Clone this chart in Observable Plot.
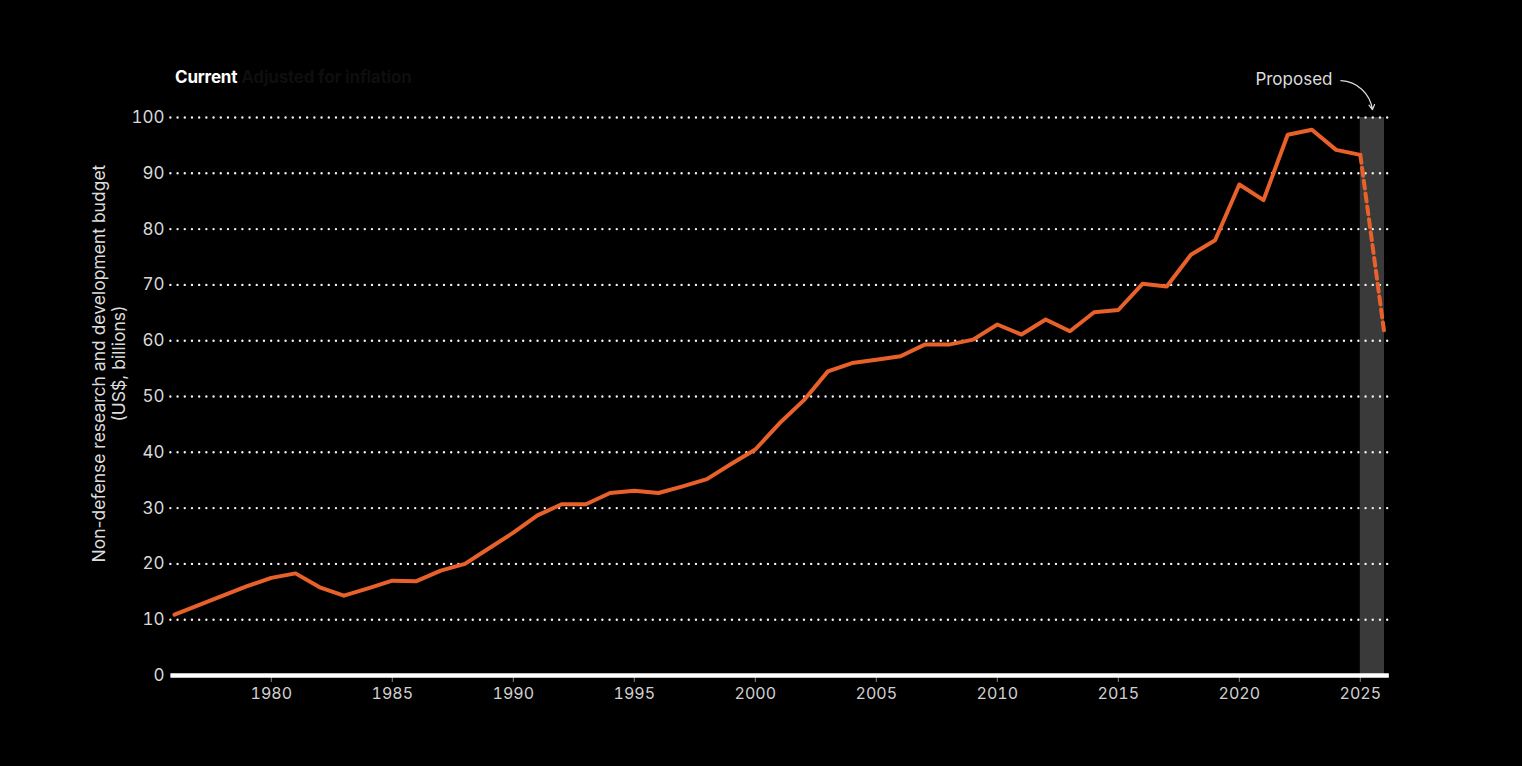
<!DOCTYPE html>
<html>
<head>
<meta charset="utf-8">
<script src="https://cdn.jsdelivr.net/npm/d3@7"></script>
<script src="https://cdn.jsdelivr.net/npm/@observablehq/plot@0.6"></script>
<style>
  html, body { margin: 0; padding: 0; background: #000; }
  #wrap { position: relative; width: 1522px; height: 766px; background: #000; overflow: hidden; }
  #title { position: absolute; left: 175px; top: 67px; font-family: Inter, "Open Sans", sans-serif; font-size: 17px; color: #fff; white-space: nowrap; letter-spacing: -0.2px; }
  #title b { font-weight: 700; }
  #title span { color: #0e0e0e; font-weight: 700; margin-left: 4px; }
</style>
</head>
<body>
<div id="wrap">
  <div id="title"><b>Current</b><span>Adjusted for inflation</span></div>
</div>
<script>
const years = [1976,1977,1978,1979,1980,1981,1982,1983,1984,1985,1986,1987,1988,1989,1990,
  1991,1992,1993,1994,1995,1996,1997,1998,1999,2000,2001,2002,2003,2004,2005,2006,2007,2008,
  2009,2010,2011,2012,2013,2014,2015,2016,2017,2018,2019,2020,2021,2022,2023,2024,2025];
const budget = [10.9,12.6,14.3,16.0,17.5,18.3,15.8,14.3,15.6,17.0,16.9,18.8,20.0,22.8,25.6,
  28.7,30.7,30.7,32.7,33.1,32.7,33.9,35.2,37.9,40.5,45.2,49.3,54.5,56.0,56.6,57.2,59.3,59.3,
  60.2,62.9,61.1,63.8,61.7,65.1,65.5,70.2,69.7,75.4,78.0,88.0,85.2,96.9,97.8,94.2,93.3];
const proposedYears = [2025, 2026];
const proposedValues = [93.3, 61.1];
const yTicks = [0,10,20,30,40,50,60,70,80,90,100];
const xTicks = [1980,1985,1990,1995,2000,2005,2010,2015,2020,2025];
const yLabel = "Non-defense research and development budget\n(US$, billions)";
const annotation = "Proposed";

const hist = years.map((y, i) => ({year: y, value: budget[i]}));
const prop = proposedYears.map((y, i) => ({year: y, value: proposedValues[i]}));
const orange = "#e8602a";
const font = "Inter, 'Open Sans', sans-serif";

const chart = Plot.plot({
  width: 1522,
  height: 766,
  marginLeft: 174,
  marginRight: 138,
  marginTop: 117,
  marginBottom: 91,
  style: {background: "#000", color: "#d0d0d0", fontFamily: font, fontSize: "16px", overflow: "visible"},
  x: {domain: [1976, 2026]},
  y: {domain: [0, 100]},
  marks: [
    Plot.rect([{}], {x1: 2025, x2: 2026, y1: 0, y2: 100, fill: "#3a3a3a"}),
    Plot.ruleY(yTicks.filter(d => d > 0), {x1: 1975.85, x2: 2026.2, stroke: "#f2f2f2", strokeWidth: 2.4, strokeDasharray: "0,7.2", strokeLinecap: "round"}),
    Plot.axisY({ticks: yTicks, tickSize: 0, tickPadding: 10, label: null, fontSize: 17, fill: "#d8d8d8"}),
    Plot.axisX({ticks: xTicks, tickFormat: d => String(d), tickSize: 7, tickPadding: 5, label: null, fontSize: 16, fill: "#d0d0d0", stroke: "#888"}),
    Plot.ruleY([0], {x1: 1975.85, x2: 2026.2, stroke: "#fff", strokeWidth: 4.5}),
    Plot.line(hist, {x: "year", y: "value", stroke: orange, strokeWidth: 4, strokeLinejoin: "round"}),
    Plot.line(prop, {x: "year", y: "value", stroke: orange, strokeWidth: 4, strokeDasharray: "8,5"}),
    Plot.text([yLabel], {x: 1973.27, y: 55.9, text: d => d, rotate: -90, fontSize: 17.5, fill: "#dcdcdc", lineHeight: 1.15, textAnchor: "middle"}),
    Plot.text([annotation], {x: 2023.85, y: 106.8, text: d => d, textAnchor: "end", fontSize: 17, fill: "#dcdcdc"}),
    Plot.arrow([{}], {x1: 2024.2, y1: 106.6, x2: 2025.5, y2: 101.4, bend: 40, stroke: "#dcdcdc", strokeWidth: 1.2, headLength: 7})
  ]
});
document.getElementById("wrap").appendChild(chart);
</script>
</body>
</html>
